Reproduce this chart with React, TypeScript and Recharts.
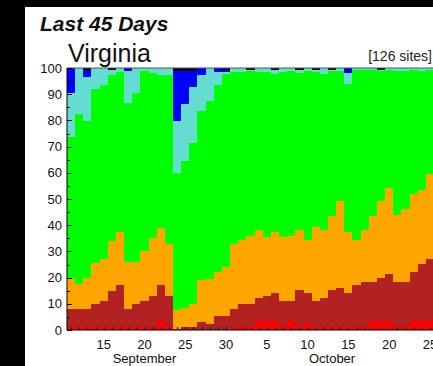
import React from "react";
import { BarChart, Bar, XAxis, YAxis, ReferenceLine } from "recharts";

const dates = [
  "Sep 11", "Sep 12", "Sep 13", "Sep 14", "Sep 15", "Sep 16", "Sep 17", "Sep 18", "Sep 19", "Sep 20",
  "Sep 21", "Sep 22", "Sep 23", "Sep 24", "Sep 25", "Sep 26", "Sep 27", "Sep 28", "Sep 29", "Sep 30",
  "Oct 1", "Oct 2", "Oct 3", "Oct 4", "Oct 5", "Oct 6", "Oct 7", "Oct 8", "Oct 9", "Oct 10",
  "Oct 11", "Oct 12", "Oct 13", "Oct 14", "Oct 15", "Oct 16", "Oct 17", "Oct 18", "Oct 19", "Oct 20",
  "Oct 21", "Oct 22", "Oct 23", "Oct 24", "Oct 25",
];
const dayNumbers = [
  11, 12, 13, 14, 15, 16, 17, 18, 19, 20, 21, 22, 23, 24, 25, 26, 27, 28, 29, 30,
  1, 2, 3, 4, 5, 6, 7, 8, 9, 10, 11, 12, 13, 14, 15, 16, 17, 18, 19, 20, 21, 22, 23, 24, 25,
];
const monthLabels = [
  { date: "Sep 20", text: "September" },
  { date: "Oct 13", text: "October" },
];
const yTicks = [0, 5, 10, 15, 20, 25, 30, 35, 40, 45, 50, 55, 60, 65, 70, 75, 80, 85, 90, 95, 100];

const redValues = [
  1, 1, 1, 1, 1, 1, 1, 1, 1, 1, 1, 3.5, 1, 0, 0, 0, 0, 0, 0, 0,
  1.2, 1.2, 1.2, 3.4, 3.4, 3.4, 1.2, 3.4, 1.2, 2.6, 1.2, 1.2, 1.2, 1.2, 1.2, 1.2, 1.2, 3.4, 3.4, 3.4,
  1.2, 1.2, 3.4, 3.4, 4,
];
const darkRedValues = [
  7, 7, 7, 9, 10, 14, 16, 7, 9, 10, 12, 13.5, 12, 0.5, 1, 1, 3.2, 2.2, 5.4, 5.4,
  6.8, 8.8, 8.8, 8.7, 9.7, 10.9, 10, 7.8, 14.1, 11.7, 10, 10.9, 14.1, 15, 13.1, 16, 17.1, 14.9, 16.6, 17.9,
  17.1, 17.1, 18.6, 21.9, 23.1,
];
const orangeValues = [
  12, 9.5, 12, 15.5, 16, 19, 20.3, 18, 16, 19, 22, 22, 20, 7, 7.5, 9, 15.8, 17.3, 16.6, 18.6,
  25, 24.5, 26, 26.2, 22.5, 23, 24.2, 24.8, 23, 20, 28.1, 26.2, 28.1, 33.2, 23, 17.3, 20, 25.1, 29.4, 33,
  25.7, 27.9, 30, 28.1, 32.3,
];
const greenValues = [
  53.7, 64.9, 59.8, 66.5, 66.5, 63.3, 61.3, 60.5, 64.3, 69, 63, 58.5, 64.5, 52.5, 56, 61.5, 64.6, 68, 71.6, 73.7,
  65.3, 63.8, 63, 60, 62.7, 60.4, 62.9, 63, 59.7, 64.7, 59, 59.4, 55.6, 49.6, 56.6, 64.9, 61.1, 56, 49.4, 45.1,
  54.8, 52.6, 47.4, 45.4, 40,
];
const cyanValues = [
  16.8, 17.6, 16.6, 8, 6.5, 2, 1.4, 12.5, 9.7, 1, 2, 2.5, 2.5, 19.6, 21.7, 21.1, 13.8, 12.5, 4.9, 0.8,
  1.7, 1.7, 0.3, 1.7, 1.7, 1.6, 1.7, 1, 1.3, 1, 1, 2.3, 0.3, 1, 4.1, 0.6, 0.6, 0.6, 0.5, 0.6,
  1.2, 1.2, 0.6, 1.2, 0.6,
];
const blueValues = [
  9.5, 0, 2.9, 0, 0, 0, 0, 1, 0, 0, 0, 0, 0, 19.4, 12.8, 6.4, 2.6, 0, 1.5, 0.8,
  0, 0, 0, 0, 0, 0, 0, 0, 0, 0, 0, 0, 0, 0, 2, 0, 0, 0, 0, 0,
  0, 0, 0, 0, 0,
];
const blackValues = [
  0, 0, 0.7, 0, 0, 0.7, 0, 0, 0, 0, 0, 0, 0, 1, 1, 1, 0, 0, 0, 0.7,
  0, 0, 0.7, 0, 0, 0.7, 0, 0, 0.7, 0, 0.7, 0, 0.7, 0, 0, 0, 0, 0, 0.7, 0,
  0, 0, 0, 0, 0,
];

const data = dates.map((date, i) => ({
  date,
  red: redValues[i],
  darkRed: darkRedValues[i],
  orange: orangeValues[i],
  green: greenValues[i],
  cyan: cyanValues[i],
  blue: blueValues[i],
  black: blackValues[i],
}));

const FONT = "'Liberation Sans', Arial, Helvetica, sans-serif";

// Pixel-snapped rectangles: neighbouring bars share the same rounded edge, so no seams.
const makeShape = (fill: string) => (p: any) => {
  if (!p || !(p.width > 0) || !(p.height > 0)) return <g />;
  const x0 = Math.round(p.x);
  const x1 = Math.round(p.x + p.width);
  const y0 = Math.round(p.y);
  const y1 = Math.round(p.y + p.height);
  if (x1 <= x0 || y1 <= y0) return <g />;
  return (
    <rect x={x0} y={y0} width={x1 - x0} height={y1 - y0} fill={fill} shapeRendering="crispEdges" />
  );
};

const XTick = (props: any) => {
  const { x, y, payload } = props;
  const i = dates.indexOf(payload.value);
  const day = dayNumbers[i];
  const month = monthLabels.find((m) => m.date === payload.value);
  const lx = Math.round(x) + 0.5;
  return (
    <g>
      <line x1={lx} x2={lx} y1={y} y2={y - 3} stroke="#000" strokeWidth={1} />
      {day % 5 === 0 && (
        <text x={x} y={y + 19} textAnchor="middle" fontSize={13} fontFamily={FONT} fill="#111">
          {day}
        </text>
      )}
      {month && (
        <text x={x} y={y + 33} textAnchor="middle" fontSize={13} fontFamily={FONT} fill="#111">
          {month.text}
        </text>
      )}
    </g>
  );
};

const YTick = (props: any) => {
  const { x, y, payload } = props;
  const v = payload.value;
  const major = v % 10 === 0;
  const ax = x + 5;
  const ly = Math.round(y) + 0.5;
  return (
    <g>
      <line x1={ax} x2={ax + (major ? 5 : 3)} y1={ly} y2={ly} stroke="#000" strokeWidth={1} />
      {major && (
        <text x={x} y={y} dy={4.6} textAnchor="end" fontSize={13} fontFamily={FONT} fill="#111">
          {v}
        </text>
      )}
    </g>
  );
};

export default function App() {
  return (
    <div
      style={{
        position: "fixed",
        left: 0,
        top: 0,
        width: 433,
        height: 366,
        background: "#000",
        overflow: "hidden",
      }}
    >
      <div style={{ position: "absolute", left: 25, top: 7, right: 0, bottom: 0, background: "#fff" }} />
      <svg width={433} height={366} style={{ position: "absolute", left: 0, top: 0 }}>
        <text x={40} y={31} fontSize={21} fontWeight="bold" fontStyle="italic" fontFamily={FONT} fill="#111">
          Last 45 Days
        </text>
        <text x={68} y={61.5} fontSize={25} fontFamily={FONT} fill="#111">
          Virginia
        </text>
        <text x={432} y={61} fontSize={14} textAnchor="end" fontFamily={FONT} fill="#222">
          [126 sites]
        </text>
      </svg>
      <div style={{ position: "absolute", left: 0, top: 0 }}>
        <BarChart
          width={440}
          height={366}
          data={data}
          margin={{ top: 68, right: 6, left: 0, bottom: 0 }}
          barCategoryGap={0}
          barGap={0}
          barSize={8.15}
        >
          <Bar dataKey="red" stackId="a" fill="#ff0000" shape={makeShape("#ff0000")} isAnimationActive={false} />
          <Bar dataKey="darkRed" stackId="a" fill="#b22222" shape={makeShape("#b22222")} isAnimationActive={false} />
          <Bar dataKey="orange" stackId="a" fill="#ffa500" shape={makeShape("#ffa500")} isAnimationActive={false} />
          <Bar dataKey="green" stackId="a" fill="#00ff00" shape={makeShape("#00ff00")} isAnimationActive={false} />
          <Bar dataKey="cyan" stackId="a" fill="#64dcd2" shape={makeShape("#64dcd2")} isAnimationActive={false} />
          <Bar dataKey="blue" stackId="a" fill="#0000ff" shape={makeShape("#0000ff")} isAnimationActive={false} />
          <Bar dataKey="black" stackId="a" fill="#000000" shape={makeShape("#000000")} isAnimationActive={false} />
          <ReferenceLine y={100} stroke="#555" strokeWidth={1} ifOverflow="visible" />
          <XAxis
            dataKey="date"
            interval={0}
            tickSize={0}
            tickMargin={0}
            tickLine={false}
            axisLine={{ stroke: "#000", strokeWidth: 1 }}
            tick={<XTick />}
            height={36}
          />
          <YAxis
            type="number"
            domain={[0, 100]}
            allowDataOverflow
            ticks={yTicks}
            interval={0}
            tickSize={0}
            tickMargin={5}
            tickLine={false}
            axisLine={{ stroke: "#000", strokeWidth: 1 }}
            tick={<YTick />}
            width={67}
          />
        </BarChart>
      </div>
    </div>
  );
}
